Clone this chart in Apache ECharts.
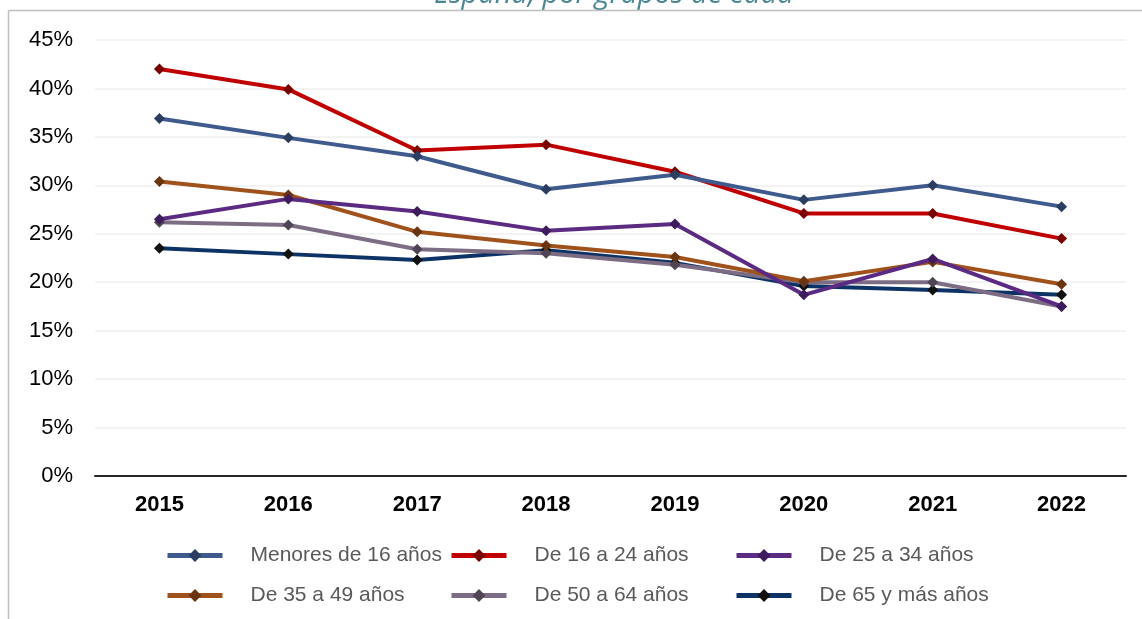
<!DOCTYPE html>
<html>
<head>
<meta charset="utf-8">
<script src="https://cdn.jsdelivr.net/npm/echarts@6/dist/echarts.min.js"></script>
<style>
html,body{margin:0;padding:0;background:#fff;}
#chart{width:1142px;height:619px;}
</style>
</head>
<body>
<div id="chart"></div>
<script>
const years = ['2015','2016','2017','2018','2019','2020','2021','2022'];
const seriesNames = ['Menores de 16 años','De 16 a 24 años','De 25 a 34 años','De 35 a 49 años','De 50 a 64 años','De 65 y más años'];
const menores16 = [36.9, 34.9, 33.0, 29.6, 31.1, 28.5, 30.0, 27.8];
const de16a24   = [42.0, 39.9, 33.6, 34.2, 31.4, 27.1, 27.1, 24.5];
const de25a34   = [26.5, 28.6, 27.3, 25.3, 26.0, 18.7, 22.4, 17.5];
const de35a49   = [30.4, 29.0, 25.2, 23.8, 22.6, 20.1, 22.1, 19.8];
const de50a64   = [26.2, 25.9, 23.4, 23.0, 21.8, 20.0, 20.0, 17.5];
const de65ymas  = [23.5, 22.9, 22.3, 23.3, 22.0, 19.6, 19.2, 18.7];
const yTicks = {min: 0, max: 45, interval: 5};

const allData = [menores16, de16a24, de25a34, de35a49, de50a64, de65ymas];
const lineColors = ['#3F5A8C','#C00000','#5B2A82','#A0521C','#7D6D84','#0D3366'];
const markColors = ['#2B3D60','#7A0000','#3E1B5C','#6A3410','#4F4554','#111111'];
const legendPos = [[165,545],[449,545],[734,545],[165,585],[449,585],[734,585]];

const series = seriesNames.map((n,i)=>({
  name: n, type: 'line', data: allData[i],
  symbol: 'diamond', symbolSize: 11,
  lineStyle: {color: lineColors[i], width: 4},
  itemStyle: {color: markColors[i]},
  emphasis: {disabled: true},
  animation: false,
  z: 10 - i
}));

const legends = seriesNames.map((n,i)=>({
  data: [n], left: legendPos[i][0], top: legendPos[i][1], padding: 0,
  itemWidth: 55, itemHeight: 16, selectedMode: false,
  lineStyle: {width: 5},
  textStyle: {fontFamily: 'Liberation Sans, Arial, sans-serif', fontSize: 21, color: '#595959', padding: [0,0,0,23]}
}));

const chart = echarts.init(document.getElementById('chart'), null, {renderer: 'canvas'});
chart.setOption({
  backgroundColor: '#fff',
  animation: false,
  grid: {left: 95, right: 16, top: 40, bottom: 143, containLabel: false},
  graphic: [
    {type: 'line', shape: {x1: 8.5, y1: 10.5, x2: 1142, y2: 10.5}, style: {stroke: '#BFBFBF', lineWidth: 1.5}, silent: true, z: 100},
    {type: 'line', shape: {x1: 8.5, y1: 10.5, x2: 8.5, y2: 619}, style: {stroke: '#BFBFBF', lineWidth: 1.5}, silent: true, z: 100},
    {type: 'text', x: 614, y: 9, style: {text: 'España, por grupos de edad', fontFamily: 'Open Sans, sans-serif', fontStyle: 'italic', fontSize: 29, fill: '#4D8794', align: 'center', verticalAlign: 'bottom'}, silent: true}
  ],
  legend: legends,
  xAxis: {
    type: 'category', data: years, boundaryGap: true,
    axisLine: {lineStyle: {color: '#262626', width: 2}},
    axisTick: {show: false},
    axisLabel: {fontFamily: 'Liberation Sans, Arial, sans-serif', fontSize: 22, fontWeight: 'bold', color: '#000', margin: 18},
    splitLine: {show: false}
  },
  yAxis: {
    type: 'value', min: yTicks.min, max: yTicks.max, interval: yTicks.interval,
    axisLine: {show: false}, axisTick: {show: false},
    axisLabel: {formatter: '{value}%', fontFamily: 'Liberation Sans, Arial, sans-serif', fontSize: 22, color: '#000', margin: 22},
    splitLine: {lineStyle: {color: '#EFEFEF', width: 1.5}}
  },
  series: series
});
</script>
</body>
</html>
